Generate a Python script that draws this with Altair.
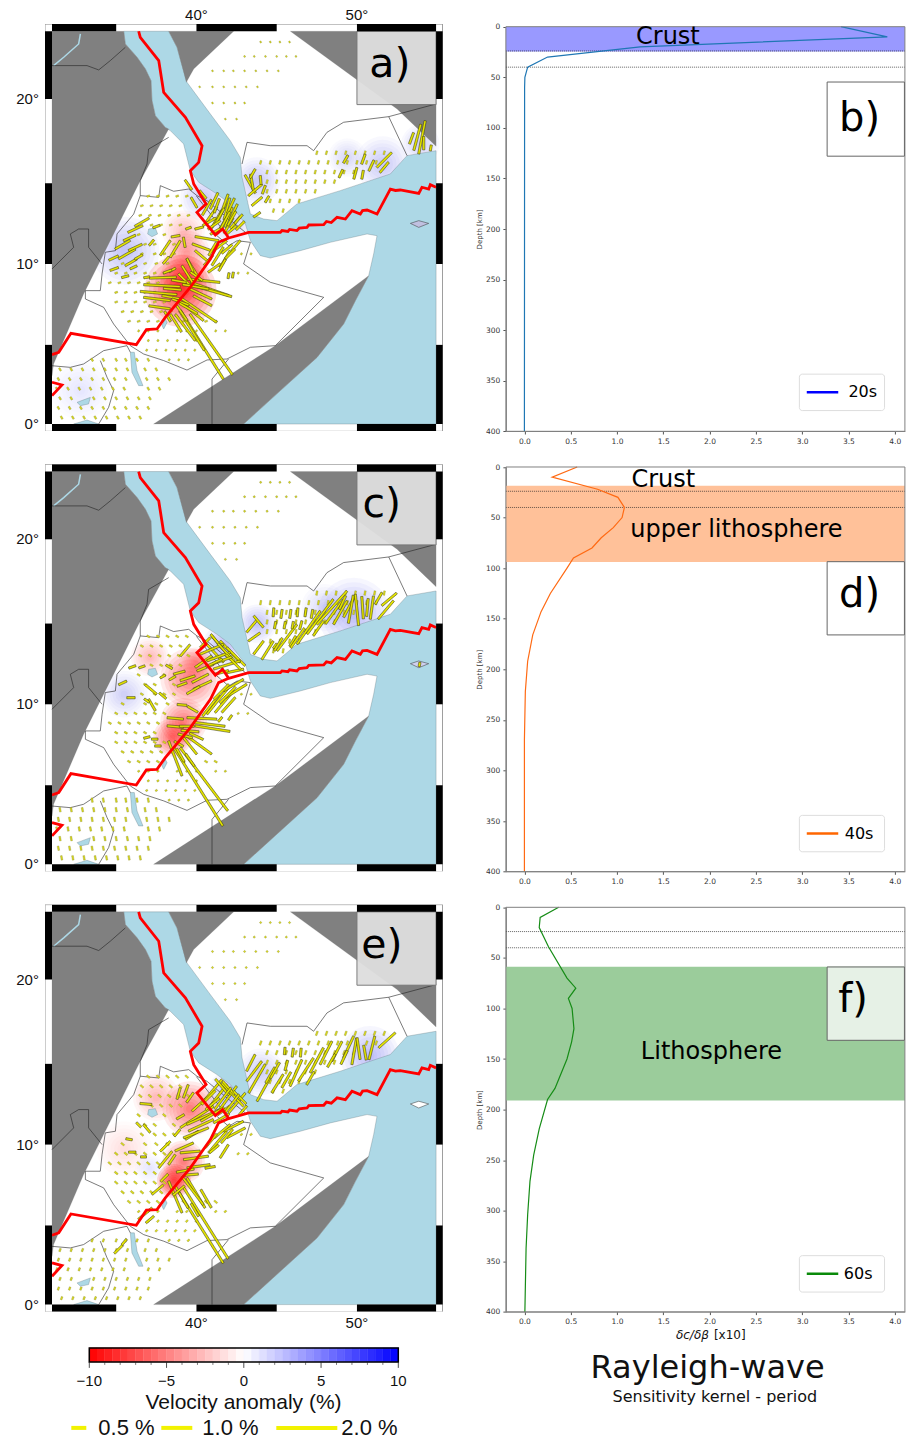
import math
import altair as alt
import pandas as pd

# ---------- map geometry: (longitude, Mercator northing in degrees) ----------
LON_MIN, LON_MAX, N_MIN, N_MAX = 31.0, 54.93, 0.0, 24.47
FRAME = (30.56, 55.34, -0.457, 24.92)
LAT_TICK_N = [0, 4.93, 9.97, 15.0, 20.25, 24.47]
LON_TICK = [31, 35, 40, 45, 50, 54.93]

RIFT_MAIN = [(36.40,24.47),(36.50,24.09),(37.65,22.64),(37.96,20.66),(39.31,19.11),(40.35,17.34),(40.14,16.30),
 (39.62,15.78),(39.83,14.95),(40.60,13.71),(40.03,13.19),(41.18,11.78),(41.63,12.15),(42.01,11.59),(43.25,11.94),
 (45.23,11.94),(45.33,12.05),(45.70,12.0),(45.80,12.12),(46.26,12.05),(46.4,12.2),(46.89,12.25),(47.0,12.4),(47.93,12.42),
 (48.1,12.62),(48.4,12.55),(48.76,12.88),(49.28,12.77),(49.69,13.29),(50.21,13.08),(50.35,13.3),(50.63,13.33),(51.25,13.08),
 (52.08,14.64),(52.4,14.55),(52.70,14.58),(53.85,14.37),(54.05,14.75),(54.47,14.64),(54.57,14.91),(54.93,14.75)]
RIFT_SOUTH = [(42.01,11.59),(41.38,11.32),(40.87,10.28),(39.62,8.52),(38.06,6.65),(37.54,5.92),(36.88,5.88),(36.25,4.94),
 (32.18,5.65),(31.42,4.47),(31.0,4.32)]
RIFT_TRI = [(31,2.6),(31.62,2.43),(31,1.77)]

SEA = [(35.47,24.47),(35.57,23.68),(36.30,22.85),(36.82,22.12),(37.17,21.39),(37.23,20.15),(37.44,19.21),(38.06,18.48),
 (38.37,18.28),(39.20,17.45),(39.62,15.78),(40.14,15.06),(41.28,14.33),(42.11,13.71),(43.05,12.46),(43.36,11.42),(43.98,10.49),
 (44.60,10.34),(46.47,10.80),(48.34,11.32),(50.63,11.84),(51.25,11.73),(51.04,10.59),(50.73,9.24),(49.90,7.68),(49.17,6.23),
 (47.51,4.15),(45.23,2.08),(42.94,0),(54.93,0),(54.93,17.03),(53.12,16.72),(52.08,15.58),(48.96,14.54),(46.26,13.71),(45.02,12.67),
 (44.19,12.77),(43.36,13.08),(42.84,15.37),(42.73,16.61),(42.11,17.65),(40.87,19.31),(39.41,21.29),(38.79,23.47),(38.27,24.47)]
GRAY_WEST = [(31,24.47),(35.47,24.47),(35.57,23.68),(36.30,22.85),(36.82,22.12),(37.17,21.39),(37.23,20.15),(37.44,19.21),(38.06,18.48),
 (38.27,18.38),(36.50,15.16),(34.84,11.84),(32.97,8.10),(31.10,3.74),(31,3.0)]
GRAY_ARABIA = [(38.27,24.47),(42.32,24.47),(39.83,22.12),(39.37,21.29),(38.79,23.47)]
GRAY_NE = [(45.85,24.47),(54.93,24.47),(54.93,17.3),(52.5,19.63)]
GRAY_SOMALIA = [(37.33,0),(44.91,4.88),(50.73,9.24),(49.90,7.68),(49.17,6.23),(47.51,4.15),(45.23,2.08),(42.94,0)]
LAKES = [[(37.02,12.15),(37.44,12.21),(37.58,11.84),(37.23,11.67),(36.96,11.84)],
 [(35.88,4.47),(36.13,4.47),(36.3,3.32),(36.67,2.39),(36.4,2.39),(35.98,3.22)],
 [(37.85,6.13),(38.06,6.54),(38.17,6.33),(37.96,5.92)],
 [(32.56,1.35),(33.39,1.66),(33.28,1.25),(32.77,1.14)],
 [(32.35,0),(33.18,0.25),(33.91,0)]]
RIVER = [(32.77,24.3),(32.66,23.68),(31.73,22.85),(31.1,22.33)]
SOCOTRA = [(53.33,12.5),(53.85,12.67),(54.47,12.5),(53.85,12.25)]
BORDERS = [
 [(31,22.33),(33.18,22.33),(33.91,22.06),(34.63,22.64),(35.57,23.47)],
 [(38.27,17.86),(37.02,17.13),(36.92,16.2),(36.5,15.16),(36.5,14.23),(36.09,13.08),(35.05,11.84),(34.95,10.8),(34.32,10.7),(34.12,9.35),(34.01,8.31),(33.08,8.31)],
 [(36.5,14.23),(37.65,14.12),(37.75,14.85),(38.58,14.5),(39.52,14.64),(40.03,14.23),(40.66,13.91),(41.9,12.88),(43.05,11.94)],
 [(41.28,11.73),(42.01,11.11),(42.53,11.42),(43.36,11.32),(42.94,9.97),(44.6,8.83),(47.93,7.89),(44.91,4.88),(43.36,4.78),(41.9,4.05),(40.66,3.99),(39.41,3.36),(37.96,3.95),(36.71,4.36),(35.88,4.88),(34.84,6.23),(34.22,7.27),(33.08,7.79),(33.08,8.31)],
 [(31,9.66),(32.35,11.01),(32.14,11.84),(32.66,12.15),(33.28,12.15),(33.28,11.01),(34.12,9.97)],
 [(42.0,4.05),(40.97,2.8),(40.97,0)],
 [(31,3.63),(32.14,3.53),(32.97,3.74),(34.22,4.57),(35.67,4.88),(35.88,4.47)],
 [(34.01,3.95),(34.43,2.91),(34.84,2.08),(34.53,1.04),(33.91,0)],
 [(42.84,16.2),(43.15,17.55),(44.6,17.34),(46.89,17.34),(47.3,17.03),(48.13,18.17),(49.17,18.8),(51.98,19.15),(54.93,19.94)],
 [(51.98,19.15),(53.12,16.72)],
 [(40.0,14.2),(41.18,12.7),(42.01,11.59)],
]

# ---------- anisotropy sticks: (lon, northing, amplitude %, azimuth deg) ----------
STICKS_A = [(40.92,4.96,2.47,145),(40.34,4.94,2.7,148),(37.85,8.62,1.22,93),(37.64,8.16,1.23,95),(37.54,7.79,.9,97),(37.7,7.27,.72,98),
 (37.91,9.12,.9,88),(40.82,8.41,1.35,109),(41.03,8.27,1.3,106),(40.44,8.93,1.1,96),(40.28,8.1,.8,115),(40.13,7.1,1.47,124),(39.68,7.06,1.05,129),
 (40.38,7.68,.7,118),(38.72,6.29,.7,148),(39.3,6.02,1.1,143),(39.72,5.82,1.55,148),(39.45,9.3,.72,148),(39.82,9.62,.85,148),(40.34,10.45,.6,130),
 (39.24,9.0,.55,135),(40.44,10.97,.8,110),(40.65,11.55,.8,100),(39.24,11.32,.35,170),(38.06,10.97,.6,34),(38.68,10.9,.65,31),(38.7,11.7,.3,80),
 (39.5,12.2,.2,70),(40.17,12.21,.3,75),(38.9,8.9,.5,100),(38.4,7.9,.6,100),(39.0,7.6,.6,110),(38.5,9.6,.25,60),(38.1,10.2,.3,40),
 (40.65,13.5,.6,30),(40.96,13.08,.6,35),(41.27,12.77,.7,30),(41.59,13.19,.7,25),(41.9,13.4,.75,15),(42.0,12.88,.7,20),(42.31,13.19,.6,25),
 (41.59,12.36,.6,30),(42.0,12.36,.6,30),(42.42,12.56,.5,40),(41.27,13.6,.5,20),(42.63,12.77,.4,40),(42.73,12.36,.4,45),(41.27,12.05,.5,60),
 (39.5,14.9,.4,145),(39.85,13.8,.4,150),(40.4,14.3,.35,140),
 (41.32,10.45,.72,32),(41.79,10.28,.65,31),(41.48,11.11,.55,53),(42.46,11.11,.45,40),(41.11,9.72,.5,55),(42.0,9.24,.2,10),(42.27,9.28,.2,10),(41.9,10.9,.45,50),
 (36.6,12.57,.55,60),(36.19,12.15,.55,65),(35.83,11.59,.45,65),(35.4,11.17,.58,60),(35.67,10.59,.65,60),(35.92,10.07,.45,60),(36.19,11.0,.5,65),
 (34.84,10.34,.35,65),(34.88,9.66,.3,70),(35.56,9.18,.25,75),(36.08,9.76,.25,65),(36.4,10.4,.3,60),(36.9,9.14,.2,80),(37.5,12.3,.25,70),(37.2,11.3,.25,40),
 (43.35,14.95,.7,150),(43.46,15.06,.55,170),(43.66,14.58,.6,50),(43.77,13.87,.45,50),(43.77,13.04,.28,55),(44.2,14.6,.3,20),(44.4,14.0,.25,30),(43.5,15.6,.35,30),(44.0,15.2,.3,175),
 (51.7,16.45,.7,45),(51.7,15.99,.45,40),(50.35,15.53,.3,10),(49.9,15.62,.4,15),(50.9,16.1,.4,25),(49.3,16.5,.3,30),(50.4,16.5,.35,20),(49.0,15.6,.3,25),
 (54.05,17.86,1.13,11),(53.76,17.86,.9,15),(54.16,17.5,.45,0),(53.4,17.8,.4,20),(54.6,17.2,.2,10),
 (41.1,13.9,.6,25),(41.75,13.7,.7,20),(42.15,13.6,.55,25),(41.45,12.95,.6,30),(41.8,12.7,.65,28),(42.2,12.8,.55,30),(40.8,12.6,.5,60),(41.1,12.4,.5,55),(42.2,12.1,.4,50),
 (41.0,10.9,.5,30),(41.6,9.9,.45,30),(40.75,10.2,.45,40),(42.1,10.6,.45,45),(38.5,8.4,.6,95),(38.2,9.5,.3,70),(39.6,9.9,.5,155),(40.0,9.2,.5,125),(39.95,8.55,.9,100),(39.5,7.2,.7,120),(39.1,6.9,.6,145),(38.2,6.7,.4,150)]

STICKS_C = [(40.47,5.3,2.63,143),(40.11,4.84,3.09,148),(38.68,6.6,1.25,159),(40.17,7.43,1.03,126),(39.61,7.37,.7,141),(41.0,8.45,1.18,99),(40.8,8.72,1.06,97),
 (40.34,9.09,1.0,93),(38.68,9.09,.55,95),(38.68,8.58,.55,95),(39.1,9.93,.33,95),(39.76,9.66,.4,120),(36.91,7.9,.22,75),(37.4,7.8,.22,90),(37.6,7.37,.22,90),(40.0,7.97,.5,115),
 (39.3,13.33,.5,40),(40.44,12.63,.68,55),(38.93,11.94,.4,75),(39.45,11.59,.52,72),(40.24,11.59,.62,63),(40.38,11.17,.67,65),(40.55,12.25,.6,68),
 (41.07,13.25,.98,137),(41.52,13.56,.95,140),(42.1,13.25,.98,137),(42.46,12.94,.86,135),(40.96,13.4,.85,67),(41.38,12.94,.82,70),(41.9,12.42,.93,73),(42.42,12.05,.57,78),(40.55,13.81,.47,45),
 (41.32,10.18,1.14,39),(41.73,10.13,.95,40),(42.0,9.93,.67,42),(42.31,11.17,.77,60),(42.46,10.8,.85,58),(42.1,9.14,.2,35),(41.48,9.03,.2,40),
 (37.16,10.9,.5,130),(37.23,9.93,.45,150),(35.92,10.38,.28,90),(36.9,10.2,.2,125),(35.4,11.3,.3,65),(36.0,12.3,.25,70),(36.6,12.3,.22,70),(38.3,12.3,.25,120),(37.9,11.7,.2,60),
 (45.64,14.12,1.1,37),(46.99,14.75,1.35,35),(47.71,15.43,1.45,37),(48.44,15.99,1.5,42),(48.59,15.74,1.0,36),(48.96,15.68,.9,30),(49.52,16.05,.8,28),(49.62,15.89,.95,10),
 (50.0,15.85,1.05,174),(50.35,15.99,.75,176),(50.93,15.99,.78,8),(51.8,15.85,.8,40),(52.01,16.51,.65,50),(51.35,16.57,.45,30),
 (43.87,13.5,.55,37),(44.43,13.33,.72,32),(43.6,14.16,.48,55),(43.46,14.85,.55,40),(43.87,15.12,.5,140),(44.8,15.7,.3,5),(45.3,15.6,.3,8),(45.85,15.6,.3,8),(46.3,15.7,.3,5),(46.8,15.7,.3,8),(47.2,15.6,.3,10),
 (44.9,14.9,.25,10),(45.5,14.9,.25,10),(46.0,14.9,.25,10),(46.5,14.9,.3,15),(46.0,13.9,.4,30),(44.9,13.6,.2,35),(53.9,12.45,.15,10),
 (41.25,13.9,.6,140),(41.85,13.2,.8,137),(42.3,12.6,.7,135),(41.6,12.7,.7,70),(41.1,12.55,.6,65),(41.55,11.95,.5,75),(40.9,9.9,.9,38),(41.95,10.55,.75,45),(41.55,10.75,.7,45),(39.8,10.85,.5,60),(39.1,11.2,.35,70),(38.5,11.6,.25,60),
 (37.9,10.5,.3,130),(39.4,8.6,.5,90),(39.6,8.3,.6,95),(39.3,8.0,.5,105),(38.9,7.5,.35,120),(39.0,6.8,.5,150),(39.6,6.5,.5,145),(47.6,14.7,.6,35),(46.3,14.1,.8,35),(45.1,13.7,.5,32),(49.1,16.3,.5,25),(50.65,16.0,.6,5)]

STICKS_E = [(40.59,5.07,2.79,148),(40.17,4.98,3.02,148),(38.68,6.71,1.15,157),(39.97,6.96,1.17,149),(39.76,7.1,1.19,143),(40.13,8.62,.78,82),(39.97,9.14,.84,82),(39.61,9.51,.67,85),
 (39.24,9.82,.67,66),(39.72,10.55,.53,58),(38.47,9.03,.4,34),(38.06,9.03,.71,39),(38.06,9.86,.47,45),(37.58,7.16,.5,50),(36.81,5.67,.6,50),(37.1,5.3,.35,50),(38.0,7.9,.35,45),(38.8,10.7,.3,40),
 (40.03,11.69,1.32,57),(40.44,11.69,1.22,66),(40.28,11.17,.92,65),(40.24,12.52,.75,48),(39.97,10.7,.9,68),(38.89,13.15,.4,16),(39.34,13.29,.47,20),(39.6,12.9,.4,35),(39.0,11.7,.3,60),
 (41.38,13.04,.91,38),(41.94,12.83,1.03,36),(41.07,13.4,.87,40),(42.52,12.56,.87,40),(42.25,13.08,1.06,137),(41.0,12.5,.6,50),(41.7,12.1,.5,55),(42.9,12.1,.4,40),
 (41.32,10.13,.95,40),(41.73,9.55,.52,32),(42.31,11.11,.74,63),(42.46,10.7,.7,62),(41.9,10.5,.6,40),(41.1,9.7,.4,50),
 (36.85,12.5,.4,95),(36.91,10.97,.35,140),(36.4,11.2,.22,135),(35.8,10.3,.22,100),(36.0,9.5,.25,90),(36.7,9.2,.2,90),(35.15,3.45,.4,45),(35.5,3.9,.25,40),
 (43.77,14.08,1.1,30),(44.29,13.6,1.14,29),(43.6,14.54,.83,37),(43.39,15.06,.62,27),(44.6,14.3,.6,30),(45.05,13.77,.72,32),(46.2,14.43,.97,24),(46.82,14.64,.92,33),(47.5,15.22,.94,28),
 (48.07,15.68,.87,27),(48.75,15.78,.74,27),(49.48,16.05,.8,25),(49.83,15.78,.9,10),(50.1,15.95,.73,172),(50.93,15.99,.8,14),(51.87,16.47,.75,48),(45.5,15.8,.25,5),(46.0,15.7,.3,8),(46.5,15.7,.3,5),(45.6,14.9,.35,15),
 (41.6,13.55,.7,140),(42.0,13.5,.6,138),(42.7,12.9,.6,135),(40.75,12.9,.65,45),(41.65,12.85,.9,37),(42.2,12.5,.8,38),(41.0,11.85,.9,60),(41.55,11.6,.6,60),(41.6,10.8,.7,50),(40.9,10.2,.6,40),(40.85,8.55,.35,80),(39.3,8.35,.6,80),(39.7,8.1,.45,85),
 (38.9,7.1,.5,50),(39.2,6.5,.6,150),(39.9,5.9,.5,150),(40.6,6.6,.7,150),(47.1,14.1,.5,30),(45.6,14.0,.6,30),(44.9,14.6,.6,30),(48.4,15.2,.5,30),(49.2,15.4,.5,25),(50.5,15.7,.5,170)]

# ---------- small sticks, row by row: {region: [(northing, [longitudes])]} ----------
DOT_ROWS = {
 "arabia": [(23.8,[44,44.6,45.2,45.8]),(22.9,[43,43.6,44.3,45,45.6,46.2]),(22,[41,41.7,42.3,43,43.7,44.4,45.1]),(21,[40.2,41,41.7,42.4,43.1,43.8]),(20,[41,41.7,42.4,43]),(19,[41.8,42.5])],
 "yemen": [(16.9,[47.5,48.1,48.7,49.3,49.9,50.5,51.1,51.7]),(16.3,[44,44.6,45.2,45.8,46.4,47,47.6,48.2,48.8,49.4,50,50.6,51.2]),(15.7,[44.4,45,45.6,46.2,46.8,47.4,48,48.6,49.2,49.8]),
   (15.1,[44.4,45,45.6,46.2,46.8,47.4,48,48.6]),(14.5,[44.4,45,45.6,46.2,46.8,47.4]),(13.9,[44.6,45.2,45.8,46.4]),(13.3,[44.8,45.4])],
 "ethw": [(14.2,[37,37.6,38.2,38.8,39.4]),(13.6,[36.6,37.2,37.8,38.4,39]),(13,[36.5,37.1,37.7,38.3,38.9,39.5]),(12.4,[37.2,37.8,38.4,39]),(11.8,[36.4,38.0]),(11.2,[36.8,37.4,38.6]),(10.6,[36.6,37.4,38.0,38.6]),
   (10.0,[35.4,36.8,37.5,38.2]),(9.4,[35.0,35.6,36.2,36.8,37.4,38]),(8.8,[34.6,35.2,35.8,36.4,37,37.6]),(8.2,[35,35.6,36.2,36.8,37.4]),(7.6,[35,35.6,36.2,36.8,37.4,38]),(7,[35.4,36,36.6,37.2,37.8,38.4]),(6.4,[35.8,36.4,37,37.6,39.2,40.6,41.2])],
 "eths": [(5.8,[36.4,37,37.6,38.8,39.4,40,41.2,41.8]),(5.2,[37,37.6,38.2,38.8,39.4,40]),(4.6,[36.9,37.5,38.1,38.7,39.3,39.9]),(4,[38.3,38.9,39.5]),(10.6,[42.8,43.4]),(9.4,[42.6,43.2])],
 "kenya": [(4,[33.5,34.2,35,35.6,36.3,37]),(3.4,[31.5,32.2,32.9,33.6,34.3,35,35.7,36.8,37.5]),(2.8,[31.4,32.1,32.8,33.5,34.2,34.9,35.6,36.9,37.6,38.3]),(2.2,[31.3,32,32.7,33.4,34.1,34.8,35.5,37,37.7]),
   (1.6,[31.5,32.2,33.6,34.3,35,35.7,36.4,37.1]),(1,[31.4,32.1,32.8,33.5,34.2,34.9,35.6,36.3,37]),(.4,[31.6,32.3,33,33.7,34.4,35.1,35.8,36.5])],
}
DOT_STYLE_A = {"arabia":(.05,60),"yemen":(.13,15),"ethw":(.1,70),"eths":(.07,30),"kenya":(.11,150)}
DOT_STYLE_C = {"arabia":(.06,150),"yemen":(.15,10),"ethw":(.11,120),"eths":(.07,60),"kenya":(.15,170)}
DOT_STYLE_E = {"arabia":(.06,40),"yemen":(.15,20),"ethw":(.13,130),"eths":(.09,45),"kenya":(.11,20)}

# ---------- velocity-anomaly tints: (lon, northing, radius px, anomaly %) ----------
BLOBS_A = [(39.0,8.3,34,-8),(39.2,9.1,22,-5),(39.4,10.6,22,-3.5),(39.2,12,20,-2),(35.57,10.8,32,2.6),(40.45,14.1,22,2.2),(42.1,12.6,22,2),(43.77,15.16,22,2.2),(51.6,16.2,26,2.2),(49.4,16.6,18,1.6),(53.95,17.45,18,2),(32.8,2.1,28,1)]
BLOBS_C = [(39.6,11.6,28,-5),(39.2,8.9,22,-5),(38.5,7.9,18,-6),(37.1,12.9,18,-2.2),(40,12.6,14,-3),(35.5,10.6,22,2),(41.7,13.6,20,3),(43.8,15,18,2.5),(49.8,15.6,34,3),(48,16,22,1.5)]
BLOBS_E = [(38.6,7.7,16,-9),(39.2,8.9,20,-5),(39.6,12.2,26,-5),(37.5,12.9,22,-2.2),(35.5,9.7,26,-1),(42.1,13.1,22,3),(44,14.5,22,2),(50.8,15.5,28,3),(37.1,8.5,14,1)]
RING_FRACTIONS = [1.2,1.05,.9,.75,.6,.45,.3,.18]

# ---------- sensitivity kernels ----------
DEPTH_20 = [0,10,20,30,40,50,60,400]
KERNEL_20 = [3.42,3.92,1.25,.25,.035,.005,.002,0]
DEPTH_40 = [0,10,22,30,40,50,60,70,80,90,100,125,143,166,192,222,270,400]
KERNEL_40 = [.57,.30,.79,1.01,1.08,1.055,.96,.83,.73,.53,.46,.28,.18,.09,.035,.01,0,0]
DEPTH_60 = [0,10,20,39,70,80,90,100,120,133,150,179,190,219,245,271,304,337,400]
KERNEL_60 = [.37,.17,.16,.26,.46,.555,.475,.515,.535,.51,.46,.33,.25,.16,.1,.06,.035,.018,.005]
DEPTH_TICKS = [0,50,100,150,200,250,300,350,400]
X_TICKS = [0,.5,1,1.5,2,2.5,3,3.5,4]
MOHO_LINES = [24,40]

CBAR_LABELS = ["\u221210","\u22125","0","5","10"]
CBAR_MAJOR = [-10,-5,0,5,10]
CBAR_MINOR = [-9,-8,-7,-6,-4,-3,-2,-1,1,2,3,4,6,7,8,9]
CBAR_STOPS = [-10+0.5*i for i in range(40)]

PX = 16.05
PROJ = dict(type="identity", reflectY=True, scale=PX, translate=[7-PX*31, 400])
FONT = "DejaVu Sans"
LAB = "Liberation Sans"


def ring(pts):
    p = [list(q) for q in pts]
    return p + [p[0]]


def poly(pts):
    return {"type": "Feature", "properties": {}, "geometry": {"type": "Polygon", "coordinates": [ring(pts)]}}


def lines(list_of_pts):
    return {"type": "Feature", "properties": {}, "geometry": {"type": "MultiLineString", "coordinates": [[list(q) for q in s] for s in list_of_pts]}}


def box(a, b, c, d):
    return poly([(a, c), (b, c), (b, d), (a, d)])


def stick(lon, n, amp, az, w=0.07):
    half = amp * 30 / PX / 2
    s, co = math.sin(math.radians(az)), math.cos(math.radians(az))
    dx, dy = half * s, half * co
    ox, oy = w * co, -w * s
    return poly([(lon-dx-ox, n-dy-oy), (lon+dx-ox, n+dy-oy), (lon+dx+ox, n+dy+oy), (lon-dx+ox, n-dy+oy)])


def geo(features, **mark):
    return alt.Chart(alt.Data(values=features)).mark_geoshape(**mark).project(**PROJ)


def frame_band():
    fl, fr, fb, ft = FRAME
    out = []
    for i, (a, b) in enumerate(zip(LON_TICK[:-1], LON_TICK[1:])):
        if i % 2 == 0:
            out += [box(a, b, N_MAX, ft), box(a, b, fb, N_MIN)]
    for i, (a, b) in enumerate(zip(LAT_TICK_N[:-1], LAT_TICK_N[1:])):
        if i % 2 == 0:
            out += [box(fl, LON_MIN, a, b), box(LON_MAX, fr, a, b)]
    return out


def label_layer(rows, **mark):
    return alt.Chart(pd.DataFrame(rows, columns=["lon", "n", "t"])).mark_text(baseline="middle", clip=False, **mark).encode(
        longitude="lon:Q", latitude="n:Q", text="t:N").project(**PROJ)


def tint_layer(blobs, colour, sign):
    rows = []
    for lon, n, r, a in blobs:
        if a * sign > 0:
            for f in RING_FRACTIONS:
                rows.append(dict(lon=lon, n=n, s=math.pi * (r * f) ** 2, o=min(abs(a) * 0.016, .16)))
    return alt.Chart(pd.DataFrame(rows)).mark_circle(color=colour).encode(
        longitude="lon:Q", latitude="n:Q", size=alt.Size("s:Q", scale=None, legend=None),
        opacity=alt.Opacity("o:Q", scale=None, legend=None)).project(**PROJ)


def map_panel(big, style, blobs, letter, letter_lon, top=False, bottom=False, soc="#c0c0e0"):
    fl, fr, fb, ft = FRAME
    base = geo([box(fl, fr, fb, ft)], fill="white", stroke="#8c8c8c", strokeWidth=1)
    tint_r = tint_layer(blobs, "#ff0000", -1)
    tint_b = tint_layer(blobs, "#3a3ae0", 1)
    sea = geo([poly(SEA)] + [poly(x) for x in LAKES], fill="#add8e6", stroke="#5a6a70", strokeWidth=0.3)
    gray = geo([poly(GRAY_WEST), poly(GRAY_ARABIA), poly(GRAY_NE), poly(GRAY_SOMALIA)], fill="#808080", stroke="#808080", strokeWidth=0.2)
    river = geo([lines([RIVER])], filled=False, stroke="#add8e6", strokeWidth=1.5)
    soco = geo([poly(SOCOTRA)], fill=soc, stroke="#333333", strokeWidth=0.5)
    border = geo([lines(BORDERS)], filled=False, stroke="#222222", strokeWidth=0.6)
    dots = []
    for region, rws in DOT_ROWS.items():
        amp, az = style[region]
        for n, lons in rws:
            dots += [stick(x, n, amp, az, w=0.055) for x in lons]
    dot_l = geo(dots, fill="#d8d820", stroke="#66660f", strokeWidth=0.25)
    big_l = geo([stick(*b) for b in big], fill="#e4e400", stroke="#2a2a10", strokeWidth=0.5)
    red = geo([lines([RIFT_MAIN, RIFT_SOUTH, RIFT_TRI])], filled=False, stroke="#ff0000", strokeWidth=2.8, strokeJoin="miter")
    bx = geo([box(50.0, 54.93, 19.9, 24.47)], fill="#dedede", opacity=0.95, stroke="#777777", strokeWidth=1)
    letter_t = label_layer([(letter_lon, 22.36, letter)], font=FONT, fontSize=41, color="black")
    band = geo(frame_band(), fill="black", strokeWidth=0)
    left = label_layer([(fl, 0, "0\u00b0"), (fl, 9.97, "10\u00b0"), (fl, 20.25, "20\u00b0")], font=LAB, fontSize=15, align="right", dx=-6, color="#111111")
    parts = [base, tint_r, tint_b, sea, gray, river, soco, border, dot_l, big_l, red, bx, letter_t, band, left]
    if top:
        parts.append(label_layer([(40, ft, "40\u00b0"), (50, ft, "50\u00b0")], font=LAB, fontSize=15, dy=-9, color="#111111"))
    if bottom:
        parts.append(label_layer([(40, fb, "40\u00b0"), (50, fb, "50\u00b0")], font=LAB, fontSize=15, dy=11, color="#111111"))
    return alt.layer(*parts).properties(width=398, height=407)


XS = alt.Scale(domain=[-0.2, 4.11], nice=False, zero=False)
YS = alt.Scale(domain=[0, 400], range=[2.7, 407.3], nice=False, zero=False)
XAX = alt.Axis(values=X_TICKS, format=".1f", title=None, grid=False, labelFontSize=7.5, labelFont=FONT, labelFlush=False,
               labelColor="#333333", tickColor="#555555", domainColor="#808080", tickSize=3, labelPadding=3)
YAX = alt.Axis(values=DEPTH_TICKS, title="Depth [km]", grid=False, labelFontSize=7.5, labelFont=FONT,
               labelColor="#333333", tickColor="#555555", domainColor="#808080", tickSize=3, labelPadding=3,
               titleFontSize=7, titleFont=FONT, titleFontWeight="normal", titleColor="#333333", titlePadding=3)


def rect_layer(rows, **mark):
    df = pd.DataFrame(rows, columns=["x0", "x1", "y0", "y1"])
    return alt.Chart(df).mark_rect(**mark).encode(
        x=alt.X("x0:Q", scale=XS, axis=XAX), x2="x1:Q", y=alt.Y("y0:Q", scale=YS, axis=YAX), y2="y1:Q")


def text_layer(x, y, t, size=24, **mark):
    df = pd.DataFrame({"x": [x], "y": [y], "t": [t]})
    return alt.Chart(df).mark_text(font=FONT, fontSize=size, color="black", baseline="middle", **mark).encode(
        x=alt.X("x:Q", scale=XS, axis=XAX), y=alt.Y("y:Q", scale=YS, axis=YAX), text="t:N")


def kernel_panel(depth, kernel, col, band, band_col, box_y, letter, letter_xy, legend, leg_col, leg_y, leg_tx, texts, box_fill="white", extra=None):
    df = pd.DataFrame({"k": kernel, "d": depth, "o": range(len(depth))})
    b = rect_layer([band], fill=band_col)
    mo = alt.Chart(pd.DataFrame({"d": MOHO_LINES})).mark_rule(color="#222222", strokeWidth=0.7, strokeDash=[1, 1]).encode(
        y=alt.Y("d:Q", scale=YS, axis=YAX))
    line = alt.Chart(df).mark_line(color=col, strokeWidth=1.2).encode(
        x=alt.X("k:Q", scale=XS, axis=XAX), y=alt.Y("d:Q", scale=YS, axis=YAX), order="o:Q")
    frame = rect_layer([(-0.2, 4.11, 0, 400)], filled=False, stroke="#808080", strokeWidth=1)
    bxl = rect_layer([(3.27, 4.105, box_y[0], box_y[1])], fill=box_fill, stroke="#666666", strokeWidth=1)
    let = text_layer(letter_xy[0], letter_xy[1], letter, size=40)
    lb = rect_layer([(2.97, 3.89, leg_y - 18, leg_y + 18)], fill="white", stroke="#dddddd", strokeWidth=1, cornerRadius=3)
    ll = alt.Chart(pd.DataFrame({"x": [3.05, 3.39], "y": [leg_y, leg_y]})).mark_line(color=leg_col, strokeWidth=2.5).encode(
        x=alt.X("x:Q", scale=XS, axis=XAX), y=alt.Y("y:Q", scale=YS, axis=YAX))
    lt = text_layer(leg_tx, leg_y, legend, size=16, align="left")
    parts = [b, mo, line, frame, bxl, let, lb, ll, lt]
    parts += [text_layer(*t) for t in texts]
    if extra:
        parts += extra
    return alt.layer(*parts).properties(width=399, height=407)


def xt(x, t, **m):
    return alt.Chart(pd.DataFrame({"t": [t]})).mark_text(baseline="middle", align="left", font=FONT, fontSize=12, color="#111111", **m).encode(
        x=alt.value(x), y=alt.value(430), text="t:N")


a = map_panel(STICKS_A, DOT_STYLE_A, BLOBS_A, "a)", 52.05, top=True)
c = map_panel(STICKS_C, DOT_STYLE_C, BLOBS_C, "c)", 51.55, soc="#d0d0ee")
e = map_panel(STICKS_E, DOT_STYLE_E, BLOBS_E, "e)", 51.55, bottom=True, soc="#ffffff")

b = kernel_panel(DEPTH_20, KERNEL_20, "#1f77b4", (-0.2, 4.11, 0, 24.5), "#9999ff", (54.7, 128), "b)", (3.62, 91), "20s", "#0000ff", 361.5, 3.5,
                 [(1.55, 10, "Crust")])
d = kernel_panel(DEPTH_40, KERNEL_40, "#ff6a13", (-0.2, 4.11, 18.5, 94), "#ffc199", (93.6, 166), "d)", (3.62, 127), "40s", "#ff6600", 362.4, 3.46,
                 [(1.5, 12.5, "Crust"), (2.29, 62.6, "upper lithosphere")])
f = kernel_panel(DEPTH_60, KERNEL_60, "#168c16", (-0.2, 4.11, 58.7, 191), "#9bcc9b", (59, 131.5), "f)", (3.55, 92), "60s", "#0a8a0a", 362.4, 3.45,
                 [(2.02, 143, "Lithosphere")], box_fill="#e6f1e6",
                 extra=[xt(170, "\u03b4c/\u03b4\u03b2", fontStyle="italic"), xt(208, "[x10]")])

# ---------- footer, left: colour bar and stick legend ----------
CX = alt.Scale(domain=[-10, 10], range=[44.3, 353.3], nice=False, zero=False)
cdf = pd.DataFrame({"v0": CBAR_STOPS, "v1": [v + 0.5 for v in CBAR_STOPS], "m": [v + 0.25 for v in CBAR_STOPS]})
ccol = alt.Scale(domain=[-10, 0, 10], range=["#ff0000", "#ffffff", "#0000ff"], interpolate="rgb")
cb = alt.Chart(cdf).mark_rect(strokeWidth=0.4).encode(
    x=alt.X("v0:Q", scale=CX, axis=None), x2="v1:Q", y=alt.value(3), y2=alt.value(17),
    color=alt.Color("m:Q", scale=ccol, legend=None), stroke=alt.Stroke("m:Q", scale=ccol, legend=None))
cout = alt.Chart(pd.DataFrame({"v0": [-10], "v1": [10]})).mark_rect(filled=False, stroke="black", strokeWidth=1.5).encode(
    x=alt.X("v0:Q", scale=CX, axis=None), x2="v1:Q", y=alt.value(3), y2=alt.value(17))
cmaj = alt.Chart(pd.DataFrame({"v": CBAR_MAJOR})).mark_rule(color="#222222", strokeWidth=0.8).encode(
    x=alt.X("v:Q", scale=CX, axis=None), y=alt.value(17), y2=alt.value(23))
cmin = alt.Chart(pd.DataFrame({"v": CBAR_MINOR})).mark_rule(color="#222222", strokeWidth=0.6).encode(
    x=alt.X("v:Q", scale=CX, axis=None), y=alt.value(17), y2=alt.value(20))
clab = alt.Chart(pd.DataFrame({"v": CBAR_MAJOR, "t": CBAR_LABELS})).mark_text(font=LAB, fontSize=15, baseline="middle", color="#111111").encode(
    x=alt.X("v:Q", scale=CX, axis=None), y=alt.value(36), text="t:N")


def ftext(x, y, t, size, align="center", font=LAB):
    return alt.Chart(pd.DataFrame({"t": [t]})).mark_text(font=font, fontSize=size, baseline="middle", align=align, color="#111111").encode(
        x=alt.value(x), y=alt.value(y), text="t:N")


def fbar(x0, x1):
    return alt.Chart(pd.DataFrame({"k": [0]})).mark_rule(color="#f2f200", strokeWidth=4).encode(
        x=alt.value(x0), x2=alt.value(x1), y=alt.value(83))


foot_l = alt.layer(cb, cout, cmaj, cmin, clab, ftext(198.5, 58, "Velocity anomaly (%)", 21),
                   fbar(26.3, 41.3), ftext(53.3, 83, "0.5 %", 22, "left"),
                   fbar(116.3, 147.3), ftext(157.3, 83, "1.0 %", 22, "left"),
                   fbar(231.3, 292.3), ftext(296.3, 83, "2.0 %", 22, "left")).properties(width=398, height=90)
foot_r = alt.layer(ftext(201.7, 23, "Rayleigh-wave", 32, font=FONT),
                   ftext(209, 52, "Sensitivity kernel - period", 16, font=FONT)).properties(width=399, height=90)

chart = alt.concat(a, b, c, d, e, f, foot_l, foot_r, columns=2, spacing={"row": 33.3, "column": 62.9},
                   align="each", bounds="flush").properties(
    padding={"left": 8, "top": 0, "right": 0, "bottom": 0}
).configure_view(stroke=None)

chart.save("out.html", embed_options={"renderer": "svg", "actions": False})
